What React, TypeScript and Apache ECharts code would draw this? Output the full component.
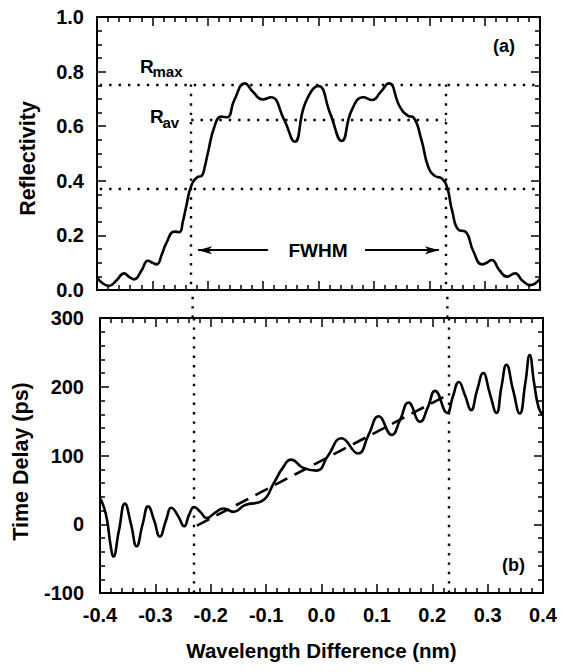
import React, { useEffect, useRef } from "react";
import * as echarts from "echarts";

// ---- Panel (a): reflectivity spectrum ----
const wavelengthR = [
  -0.4, -0.39, -0.378, -0.365, -0.351, -0.342, -0.333, -0.32, -0.308, -0.3, -0.292, -0.283, -0.275,
  -0.26, -0.251, -0.245, -0.239, -0.23, -0.219, -0.211, -0.205, -0.2, -0.188, -0.176, -0.165,
  -0.152, -0.133, -0.118, -0.101, -0.086, -0.062, -0.043, -0.024, 0.0, 0.021, 0.042, 0.06,
  0.081, 0.097, 0.112, 0.127, 0.147, 0.162, 0.171, 0.186, 0.198, 0.21, 0.222, 0.232, 0.241,
  0.253, 0.265, 0.28, 0.295, 0.304, 0.313, 0.326, 0.34, 0.355, 0.368, 0.382, 0.392, 0.4,
];
const reflectivity = [
  0.046, 0.025, 0.015, 0.035, 0.061, 0.048, 0.039, 0.07, 0.107, 0.1, 0.094, 0.13, 0.171,
  0.214, 0.212, 0.25, 0.305, 0.38, 0.413, 0.418, 0.455, 0.5, 0.598, 0.635, 0.633,
  0.696, 0.757, 0.725, 0.698, 0.706, 0.623, 0.543, 0.684, 0.747, 0.647, 0.546, 0.659,
  0.706, 0.696, 0.725, 0.757, 0.671, 0.638, 0.633, 0.549, 0.452, 0.418, 0.409, 0.378, 0.293,
  0.22, 0.214, 0.14, 0.094, 0.1, 0.11, 0.075, 0.049, 0.061, 0.035, 0.018, 0.025, 0.04,
];

// ---- Panel (b): time delay ----
const wavelengthT = [
  -0.4, -0.393, -0.387, -0.381, -0.376, -0.366, -0.355, -0.344, -0.334, -0.323, -0.313, -0.302,
  -0.292, -0.281, -0.271, -0.259, -0.248, -0.239, -0.23, -0.219, -0.207, -0.192, -0.177, -0.159,
  -0.138, -0.107, -0.086, -0.07, -0.055, -0.033, -0.009, 0.012, 0.036, 0.066, 0.085, 0.103,
  0.127, 0.142, 0.157, 0.178, 0.192, 0.205, 0.227, 0.237, 0.248, 0.259, 0.27, 0.281, 0.292,
  0.304, 0.316, 0.325, 0.334, 0.346, 0.358, 0.368, 0.376, 0.384, 0.392, 0.4,
];
const timeDelay = [
  38, 25, 5, -30, -47, -10, 30, 0, -32, 0, 26, 5,
  -18, 5, 24, 12, -3, 14, 25, 18, 9, 17, 23, 18,
  28, 34, 60, 82, 94, 82, 78, 100, 125, 103, 130, 157,
  130, 152, 177, 149, 170, 194, 162, 185, 207, 188, 166, 195, 220,
  190, 162, 200, 232, 195, 161, 205, 246, 205, 170, 158,
];
const fitWavelength = [-0.225, 0.232];
const fitDelay = [-2, 190];

// ---- Annotation levels ----
const rMax = 0.753;
const rAv = 0.622;
const rHalf = 0.371;
const bandEdges = [-0.23, 0.23];
const fwhmLevel = 0.146;
const fwhmArrowTails = [-0.091, 0.084];

const FONT = "'Liberation Sans', Arial, Helvetica, sans-serif";
const BLACK = "#000";
const DOTTED = { color: BLACK, width: 2.4, type: [2.4, 7] as number[] };

function xAxis(gridIndex: number, position: "top" | "bottom", labels: boolean, extra: any = {}) {
  return {
    type: "value",
    gridIndex,
    position,
    min: -0.4,
    max: 0.4,
    interval: 0.1,
    axisLine: { show: true, onZero: false, lineStyle: { color: BLACK, width: 2 } },
    axisTick: { show: true, inside: true, length: 9, lineStyle: { color: BLACK, width: 1.5 } },
    minorTick: { show: true, splitNumber: 5, length: 5, lineStyle: { color: BLACK, width: 1.5 } },
    splitLine: { show: false },
    minorSplitLine: { show: false },
    axisLabel: {
      show: labels,
      margin: 12,
      color: BLACK,
      fontFamily: FONT,
      fontWeight: "bold",
      fontSize: 20,
      formatter: (v: number) => (Math.abs(v) < 1e-9 ? "0.0" : v.toFixed(1)),
    },
    ...extra,
  };
}

function yAxis(gridIndex: number, position: "left" | "right", min: number, max: number, interval: number,
  minorSplit: number, labels: boolean, margin: number, fmt: (v: number) => string, extra: any = {}) {
  return {
    type: "value",
    gridIndex,
    position,
    min,
    max,
    interval,
    axisLine: { show: true, onZero: false, lineStyle: { color: BLACK, width: 2 } },
    axisTick: { show: true, inside: true, length: 9, lineStyle: { color: BLACK, width: 1.5 } },
    minorTick: { show: true, splitNumber: minorSplit, length: 5, lineStyle: { color: BLACK, width: 1.5 } },
    splitLine: { show: false },
    minorSplitLine: { show: false },
    axisLabel: {
      show: labels,
      margin,
      color: BLACK,
      fontFamily: FONT,
      fontWeight: "bold",
      fontSize: 20,
      formatter: fmt,
    },
    ...extra,
  };
}

function txt(text: string, x: number, y: number, size: number, align: string = "left") {
  return {
    type: "text",
    x,
    y,
    silent: true,
    style: {
      text,
      fill: BLACK,
      font: `bold ${size}px ${FONT}`,
      align,
      verticalAlign: "middle",
      textAlign: align,
      textVerticalAlign: "middle",
    },
  };
}

export default function App() {
  const ref = useRef<HTMLDivElement>(null);

  useEffect(() => {
    if (!ref.current) return;
    const chart = echarts.init(ref.current, undefined, { renderer: "svg" });
    const nameStyle = { color: BLACK, fontFamily: FONT, fontWeight: "bold", fontSize: 20.5 };
    const yNameStyle = { color: BLACK, fontFamily: FONT, fontWeight: "bold", fontSize: 21.5 };

    const option: any = {
      animation: false,
      backgroundColor: "#fff",
      grid: [
        { left: 97, right: 21, top: 17, height: 273 },
        { left: 100, right: 18, top: 318, height: 275 },
        { left: 98.5, right: 19.5, top: 290, height: 28 },
      ],
      xAxis: [
        xAxis(0, "bottom", false),
        xAxis(0, "top", false),
        xAxis(1, "bottom", true, {
          name: "Wavelength Difference (nm)",
          nameLocation: "middle",
          nameGap: 47,
          nameTextStyle: nameStyle,
        }),
        xAxis(1, "top", false),
        { type: "value", gridIndex: 2, min: -0.4, max: 0.4, show: false },
      ],
      yAxis: [
        yAxis(0, "left", 0, 1, 0.2, 4, true, 13, (v) => v.toFixed(1), {
          name: "Reflectivity",
          nameLocation: "middle",
          nameRotate: 90,
          nameGap: 58,
          nameTextStyle: { ...yNameStyle, padding: [0, 10, 0, 0] },
        }),
        yAxis(0, "right", 0, 1, 0.2, 4, false, 10, (v) => v.toFixed(1)),
        yAxis(1, "left", -100, 300, 100, 5, true, 16, (v) => String(Math.round(v)), {
          name: "Time Delay (ps)",
          nameLocation: "middle",
          nameRotate: 90,
          nameGap: 68,
          nameTextStyle: { ...yNameStyle, padding: [0, 12, 0, 0] },
        }),
        yAxis(1, "right", -100, 300, 100, 5, false, 10, (v) => String(v)),
        { type: "value", gridIndex: 2, min: 0, max: 1, show: false },
      ],
      series: [
        {
          name: "Reflectivity",
          type: "line",
          xAxisIndex: 0,
          yAxisIndex: 0,
          data: wavelengthR.map((x, i) => [x, reflectivity[i]]),
          smooth: 0.5,
          symbol: "none",
          lineStyle: { color: BLACK, width: 2.6 },
          z: 3,
          markLine: {
            silent: true,
            symbol: ["none", "none"],
            label: { show: false },
            lineStyle: DOTTED,
            data: [
              [{ coord: [-0.395, rMax] }, { coord: [0.395, rMax] }],
              [{ coord: [bandEdges[0], rAv] }, { coord: [bandEdges[1], rAv] }],
              [{ coord: [-0.395, rHalf] }, { coord: [0.395, rHalf] }],
              [{ coord: [bandEdges[0], rMax] }, { coord: [bandEdges[0], 0] }],
              [{ coord: [bandEdges[1], rMax] }, { coord: [bandEdges[1], 0] }],
            ],
          },
        },
        {
          name: "FWHM",
          type: "line",
          xAxisIndex: 0,
          yAxisIndex: 0,
          data: [],
          symbol: "none",
          markLine: {
            silent: true,
            symbol: ["arrow", "none"],
            symbolSize: [6, 14],
            label: { show: false },
            lineStyle: { color: BLACK, width: 2, type: "solid" },
            data: [
              [{ coord: [bandEdges[0] + 0.0125, fwhmLevel] }, { coord: [fwhmArrowTails[0], fwhmLevel] }],
              [{ coord: [bandEdges[1] - 0.0125, fwhmLevel] }, { coord: [fwhmArrowTails[1], fwhmLevel] }],
            ],
          },
        },
        {
          name: "Linear fit",
          type: "line",
          xAxisIndex: 2,
          yAxisIndex: 2,
          data: fitWavelength.map((x, i) => [x, fitDelay[i]]),
          symbol: "none",
          lineStyle: { color: BLACK, width: 2.6, type: [14, 8] },
          z: 2,
          markLine: {
            silent: true,
            symbol: ["none", "none"],
            label: { show: false },
            lineStyle: DOTTED,
            data: [
              [{ coord: [bandEdges[0], 300] }, { coord: [bandEdges[0], -100] }],
              [{ coord: [bandEdges[1], 300] }, { coord: [bandEdges[1], -100] }],
            ],
          },
        },
        {
          name: "Time Delay",
          type: "line",
          xAxisIndex: 2,
          yAxisIndex: 2,
          data: wavelengthT.map((x, i) => [x, timeDelay[i]]),
          smooth: 0.5,
          symbol: "none",
          lineStyle: { color: BLACK, width: 2.6 },
          z: 3,
        },
        ...bandEdges.map((x) => ({
          type: "line",
          xAxisIndex: 4,
          yAxisIndex: 4,
          data: [[x, 0], [x, 1]],
          symbol: "none",
          silent: true,
          lineStyle: DOTTED,
        })),
      ],
      graphic: [
        txt("R", 140, 66, 19),
        txt("max", 152.5, 71.5, 15),
        txt("R", 150, 116.5, 19),
        txt("av", 162.5, 122, 15),
        txt("(a)", 504, 45.5, 18, "center"),
        txt("(b)", 513.5, 564.5, 18, "center"),
        txt("FWHM", 318, 250.5, 19, "center"),
      ],
    };

    chart.setOption(option);
    return () => chart.dispose();
  }, []);

  return (
    <div
      ref={ref}
      style={{ position: "absolute", left: 0, top: 0, width: 561, height: 672, background: "#fff" }}
    />
  );
}
